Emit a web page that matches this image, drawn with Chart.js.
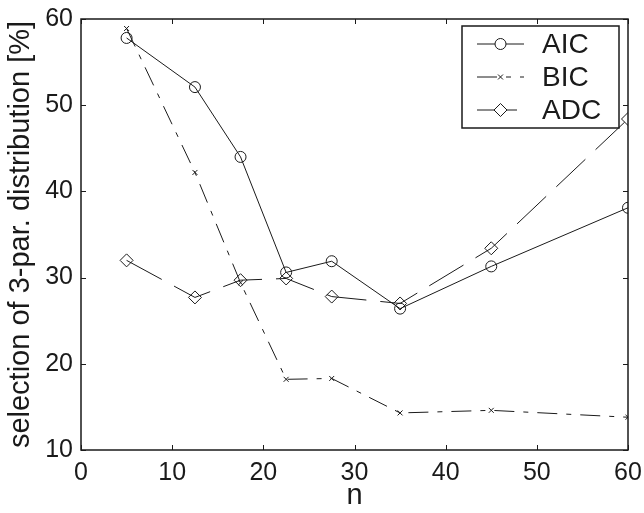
<!DOCTYPE html>
<html>
<head>
<meta charset="utf-8">
<title>Selection of 3-par. distribution</title>
<script src="https://cdn.jsdelivr.net/npm/chart.js@4/dist/chart.umd.min.js"></script>
<style>
    body { margin: 0; background: #fff; }
    #wrap { width: 644px; height: 513px; }
</style>
</head>
<body>
<div id="wrap"><canvas id="selChart" width="644" height="513"></canvas></div>
<script>
// sample sizes n
const sampleSizes = [5, 12.5, 17.5, 22.5, 27.5, 35, 45, 60];
// percentage of runs selecting the 3-parameter distribution
const aicValues = [57.8, 52.1, 44.0, 30.6, 31.9, 26.4, 31.3, 38.1];
const bicValues = [58.9, 42.2, 29.4, 18.2, 18.3, 14.3, 14.6, 13.8];
const adcValues = [32.0, 27.7, 29.7, 29.9, 27.8, 27.0, 33.4, 48.4];
const xTicks = [0, 10, 20, 30, 40, 50, 60];
const yTicks = [10, 20, 30, 40, 50, 60];

const ink = '#1a1a1a';
const fontFamily = '"Liberation Sans", Arial, Helvetica, sans-serif';

function toPoints(values) {
    return sampleSizes.map((n, i) => ({ x: n, y: values[i] }));
}

// Box around the axes with inward ticks on all four sides
const frameTicks = {
    id: 'frameTicks',
    afterDraw(chart) {
        const ctx = chart.ctx;
        const a = chart.chartArea;
        const xs = chart.scales.x, ys = chart.scales.y;
        const len = 5;
        ctx.save();
        ctx.strokeStyle = ink;
        ctx.lineWidth = 1.5;
        ctx.strokeRect(a.left, a.top, a.right - a.left, a.bottom - a.top);
        ctx.lineWidth = 1;
        ctx.beginPath();
        xTicks.forEach(v => {
            const px = Math.round(xs.getPixelForValue(v)) + 0.5;
            ctx.moveTo(px, a.bottom); ctx.lineTo(px, a.bottom - len);
            ctx.moveTo(px, a.top); ctx.lineTo(px, a.top + len);
        });
        yTicks.forEach(v => {
            const py = Math.round(ys.getPixelForValue(v)) + 0.5;
            ctx.moveTo(a.left, py); ctx.lineTo(a.left + len, py);
            ctx.moveTo(a.right, py); ctx.lineTo(a.right - len, py);
        });
        ctx.stroke();
        ctx.restore();
    }
};

// Boxed legend in the upper right corner, line sample with marker
const boxLegend = {
    id: 'boxLegend',
    afterDraw(chart) {
        const ctx = chart.ctx;
        const a = chart.chartArea;
        const w = 157, h = 102;
        const left = a.right - 9 - w, top = a.top + 7;
        ctx.save();
        ctx.fillStyle = '#fff';
        ctx.fillRect(left, top, w, h);
        ctx.strokeStyle = ink;
        ctx.lineWidth = 1.5;
        ctx.strokeRect(left, top, w, h);
        ctx.font = '28px ' + fontFamily;
        ctx.textBaseline = 'middle';
        chart.data.datasets.forEach((ds, i) => {
            const y = top + 18 + i * 33;
            const x0 = left + 15, x1 = left + 62;
            ctx.strokeStyle = ds.borderColor;
            ctx.lineWidth = 1;
            ctx.setLineDash(ds.borderDash || []);
            ctx.beginPath();
            ctx.moveTo(x0, y); ctx.lineTo(x1, y);
            ctx.stroke();
            ctx.setLineDash([]);
            ctx.fillStyle = '#fff';
            ctx.strokeStyle = ink;
            Chart.helpers.drawPoint(ctx, {
                pointStyle: ds.pointStyle,
                radius: ds.pointRadius,
                borderWidth: 1,
                rotation: 0
            }, (x0 + x1) / 2, y);
            ctx.fillStyle = ink;
            ctx.fillText(ds.label, left + 80, y + 1);
        });
        ctx.restore();
    }
};

const common = {
    borderColor: ink,
    borderWidth: 1,
    pointBorderColor: ink,
    pointBackgroundColor: 'rgba(0,0,0,0)',
    pointBorderWidth: 1,
    tension: 0,
    fill: false
};

new Chart(document.getElementById('selChart'), {
    type: 'line',
    data: {
        datasets: [
            Object.assign({}, common, {
                label: 'AIC',
                data: toPoints(aicValues),
                pointStyle: 'circle',
                pointRadius: 5.5
            }),
            Object.assign({}, common, {
                label: 'BIC',
                data: toPoints(bicValues),
                borderDash: [20, 9, 5, 9],
                pointStyle: 'crossRot',
                pointRadius: 3.5
            }),
            Object.assign({}, common, {
                label: 'ADC',
                data: toPoints(adcValues),
                borderDash: [40, 14],
                pointStyle: 'rectRot',
                pointRadius: 6.5
            })
        ]
    },
    options: {
        responsive: false,
        devicePixelRatio: 1,
        animation: false,
        layout: { padding: { top: 19, right: 16, left: 0, bottom: 0 } },
        plugins: {
            legend: { display: false },
            tooltip: { enabled: false }
        },
        scales: {
            x: {
                type: 'linear',
                min: 0,
                max: 60,
                afterBuildTicks: s => { s.ticks = xTicks.map(v => ({ value: v })); },
                afterFit: s => {
                    s.height = 63;
                    s.paddingLeft = 0;
                    s.paddingRight = 0;
                },
                grid: { display: false, drawTicks: false },
                border: { display: false },
                ticks: { color: ink, padding: 8, font: { family: fontFamily, size: 25 } },
                title: {
                    display: true,
                    text: 'n',
                    color: ink,
                    padding: { top: 0, bottom: 0 },
                    font: { family: fontFamily, size: 29 }
                }
            },
            y: {
                min: 10,
                max: 60,
                afterBuildTicks: s => { s.ticks = yTicks.map(v => ({ value: v })); },
                afterFit: s => {
                    s.width = 81;
                    s.paddingTop = 0;
                    s.paddingBottom = 0;
                },
                grid: { display: false, drawTicks: false },
                border: { display: false },
                ticks: { color: ink, padding: 8, font: { family: fontFamily, size: 25 } },
                title: {
                    display: true,
                    text: 'selection of 3-par. distribution [%]',
                    color: ink,
                    padding: { top: 4, bottom: 0 },
                    font: { family: fontFamily, size: 29 }
                }
            }
        }
    },
    plugins: [frameTicks, boxLegend]
});
</script>
</body>
</html>
